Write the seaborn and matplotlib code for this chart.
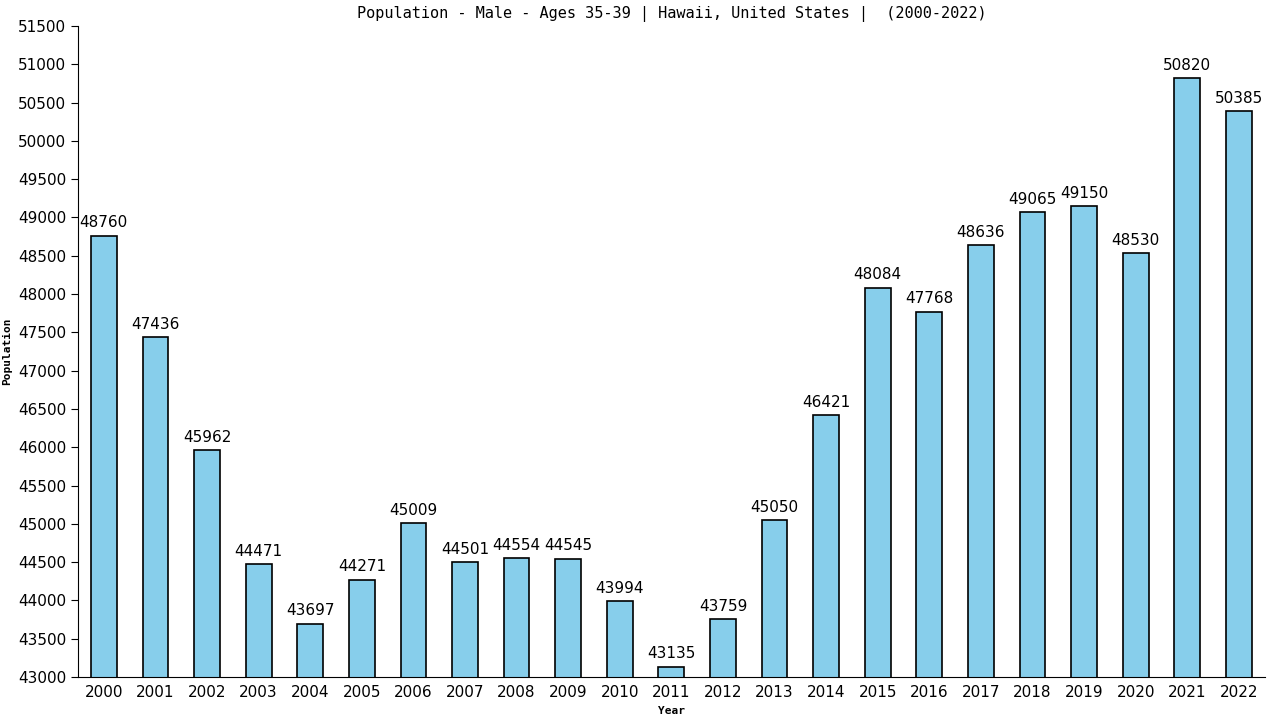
import matplotlib
matplotlib.use("Agg")
import matplotlib.pyplot as plt
import seaborn as sns
import pandas as pd

years = [str(y) for y in range(2000, 2023)]
population = [48760, 47436, 45962, 44471, 43697, 44271, 45009, 44501, 44554, 44545,
              43994, 43135, 43759, 45050, 46421, 48084, 47768, 48636, 49065, 49150,
              48530, 50820, 50385]

df = pd.DataFrame({"Year": years, "Population": population})

sns.set_style("ticks")
plt.rcParams['font.family'] = ['DejaVu Sans']
plt.rcParams.update({"text.color": "black", "axes.labelcolor": "black",
                     "xtick.color": "black", "ytick.color": "black",
                     "axes.edgecolor": "black"})

fig = plt.figure(figsize=(12.8, 7.2), dpi=100)
ax = fig.add_axes([0.061, 0.0597, 0.927, 0.9043])

sns.barplot(data=df, x="Year", y="Population", color="#87CEEB", edgecolor="black",
            linewidth=1.2, width=0.5, saturation=1, ax=ax)

for i, v in enumerate(population):
    ax.text(i, v + 70, str(v), ha="center", va="bottom", fontsize=11, color="black")

ax.set_xlim(-0.5, 22.5)
ax.set_ylim(43000, 51500)
ax.set_yticks(range(43000, 51501, 500))
ax.tick_params(axis="both", labelsize=11)
ax.tick_params(axis="x", length=0, pad=6)
ax.tick_params(axis="y", length=5)
ax.set_xlabel("Year", fontsize=8, fontweight="bold", family="DejaVu Sans Mono", labelpad=4)
ax.set_ylabel("Population", fontsize=8, fontweight="bold", family="DejaVu Sans Mono")
ax.set_title("Population - Male - Ages 35-39 | Hawaii, United States |  (2000-2022)",
             fontsize=11, family="DejaVu Sans Mono", pad=6)
sns.despine(ax=ax)

fig.savefig("out.png", dpi=100)
